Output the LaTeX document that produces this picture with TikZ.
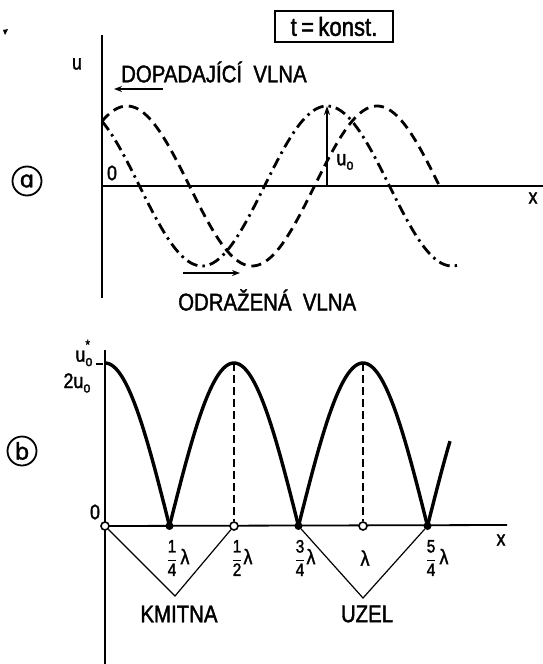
\documentclass[tikz,border=0pt]{standalone}
\usepackage{fontspec}
\setmainfont{Liberation Sans}[FakeStretch=0.85,FakeBold=1.6]
\newfontfamily\dvfont{DejaVu Sans}[FakeBold=1.2]
\usetikzlibrary{arrows.meta}
\newcommand\frl[2]{$\displaystyle\frac{\hbox{\fontsize{18}{18}\selectfont #1}}{\hbox{\fontsize{18}{18}\selectfont #2}}$}
\newcommand\usub{\raisebox{-0.4ex}{\fontsize{15}{15}\selectfont o}}
\newcommand\lam{{\fontsize{21}{23}\selectfont λ}}
\begin{document}
\begin{tikzpicture}[x=1pt,y=-1pt,
  ax/.style={line width=1.8pt},
  wv/.style={line width=2.8pt},
  dsh/.style={wv,dash pattern=on 10pt off 6pt},
  dshdot/.style={wv,dash pattern=on 11pt off 5pt on 2.5pt off 5pt},
  arch/.style={line width=3.4pt},
  thinl/.style={line width=1.2pt},
  vd/.style={line width=1.2pt,dash pattern=on 8pt off 4pt},
  big/.style={inner sep=0pt,font=\fontsize{24}{26}\selectfont},
  mid/.style={inner sep=0pt,font=\fontsize{21}{23}\selectfont},
  sm/.style={inner sep=0pt,font=\fontsize{16}{18}\selectfont},
  boxlab/.style={draw,line width=1.5pt,inner sep=0pt,minimum width=118pt,minimum height=31pt,font=\fontsize{26}{28}\selectfont},
  onode/.style={circle,draw,line width=1.6pt,fill=white,inner sep=0pt,minimum size=8pt},
  fnode/.style={circle,fill,inner sep=0pt,minimum size=8pt},
  circlab/.style={circle,draw,line width=1.8pt,inner sep=0pt,minimum size=29pt,font=\fontsize{23}{25}\selectfont\dvfont},
  arr/.style={line width=2.4pt,-{Stealth[length=8pt,width=6pt]}},
]
\useasboundingbox (0,0) rectangle (543,664);
% speck
\fill (3,30) -- (8,29) -- (5,35) -- cycle;

% ---------- panel a ----------
\coordinate (ay0) at (102,35);
\coordinate (ay1) at (102,298);
\coordinate (ax0) at (102,186);
\coordinate (ax1) at (543,186);
\draw[ax] (ay0) -- (ay1);
\draw[ax] (ax0) -- (ax1);

\node[boxlab] (tk) at (334,26.5) {t\,=\,konst.};
\node[mid] (ua) at (77,64) {u};
\node[big,anchor=west] (dop) at (121,72) {DOPADAJÍCÍ\ \ VLNA};
\coordinate (da0) at (163,89);
\coordinate (da1) at (114,89);
\draw[arr] (da0) -- (da1);
\node[mid] (za) at (112,173) {0};
\node[mid] (xa) at (533,198) {x};
\node[circlab] (ca) at (27,181) {ɑ};

\draw[dshdot] plot[domain=102:457,samples=160] (\x,{186-80*cos(1.44*(\x-77))});
\draw[dsh] plot[domain=102:440,samples=160] (\x,{186-80*cos(1.44*(\x-127))});

\coordinate (u0b) at (327,186);
\coordinate (u0t) at (327,106);
\draw[line width=1.6pt,-{Stealth[length=9pt,width=6pt]}] (u0b) -- (u0t);
\node[mid] (u0a) at (345,162) {u\usub};

\coordinate (oa0) at (183,273);
\coordinate (oa1) at (240,273);
\draw[arr] (oa0) -- (oa1);
\node[big,anchor=west] (odr) at (178,300) {ODRAŽENÁ\ \ VLNA};

% ---------- panel b ----------
\coordinate (by0) at (105,350);
\coordinate (by1) at (105,664);
\coordinate (bx0) at (105,526);
\coordinate (bx1) at (507,525);
\draw[ax] (by0) -- (by1);
\draw[ax] (bx0) -- (bx1);

\draw[arch] plot[domain=105:169.5,samples=60] (\x,{526-163*abs(cos(1.3953*(\x-105)))});
\draw[arch] plot[domain=169.5:298.5,samples=100] (\x,{526-163*abs(cos(1.3953*(\x-105)))});
\draw[arch] plot[domain=298.5:427.5,samples=100] (\x,{526-163*abs(cos(1.3953*(\x-105)))});
\draw[arch] plot[domain=427.5:450,samples=30] (\x,{526-163*abs(cos(1.3953*(\x-105)))});

\coordinate (p1) at (234,363);
\coordinate (p2) at (363,363);
\coordinate (v1) at (175,596);
\coordinate (v2) at (363,598);

\node[onode] (n0) at (105,526) {};
\node[fnode] (n1) at (169.5,526) {};
\node[onode] (n2) at (234,526) {};
\node[fnode] (n3) at (298.5,526) {};
\node[onode] (n4) at (363,526) {};
\node[fnode] (n5) at (427.5,526) {};

\draw[vd] (p1) -- (n2);
\draw[vd] (p2) -- (n4);
\draw[thinl] (n0) -- (v1) -- (n2);
\draw[thinl] (n3) -- (v2) -- (n5);

\coordinate (tk0) at (96,364);
\coordinate (tk1) at (103,364);
\draw[thinl] (tk0) -- (tk1);
\node[mid] (us) at (84,353) {u\rlap{\raisebox{1.1ex}{\fontsize{14}{14}\selectfont *}}\usub};
\node[mid] (u2) at (77,383) {2u\usub};
\node[mid] (zb) at (95,512) {0};
\node[mid] (xb) at (501,540) {x};
\node[circlab] (cb) at (22,451) {b};

\node[sm] (f1) at (178,558) {\frl{1}{4}\kern3pt\lam};
\node[sm] (f2) at (242,558) {\frl{1}{2}\kern1pt\lam};
\node[sm] (f3) at (305,558) {\frl{3}{4}\kern1pt\lam};
\node[sm] (f4) at (365,558) {\lam};
\node[sm] (f5) at (437,558) {\frl{5}{4}\kern3pt\lam};

\node[big] (km) at (179,614) {KMITNA};
\node[big] (uz) at (367,614) {UZEL};
\end{tikzpicture}
\end{document}
